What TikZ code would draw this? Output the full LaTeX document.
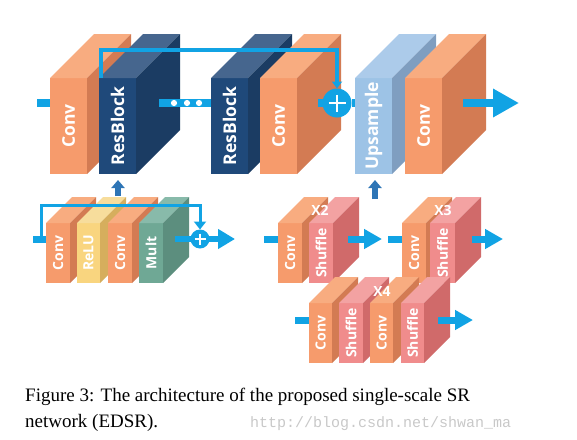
\documentclass[tikz,border=0pt]{standalone}
\usepackage{fontspec}
\setmainfont{Liberation Serif}
\newfontfamily\lblfont{Open Sans}
\newfontfamily\wmfont{Liberation Mono}
\usetikzlibrary{arrows.meta,calc}
\definecolor{orF}{RGB}{246,155,108}
\definecolor{orT}{RGB}{248,172,128}
\definecolor{orS}{RGB}{211,123,83}
\definecolor{nvF}{RGB}{31,73,122}
\definecolor{nvT}{RGB}{70,102,142}
\definecolor{nvS}{RGB}{27,60,99}
\definecolor{lbF}{RGB}{157,195,230}
\definecolor{lbT}{RGB}{172,203,234}
\definecolor{lbS}{RGB}{127,158,192}
\definecolor{ylF}{RGB}{249,213,127}
\definecolor{ylT}{RGB}{247,221,156}
\definecolor{ylS}{RGB}{214,174,93}
\definecolor{tlF}{RGB}{111,168,149}
\definecolor{tlT}{RGB}{136,186,170}
\definecolor{tlS}{RGB}{92,142,126}
\definecolor{pkF}{RGB}{240,140,140}
\definecolor{pkT}{RGB}{243,162,162}
\definecolor{pkS}{RGB}{208,106,106}
\definecolor{cyanA}{RGB}{17,163,228}
\definecolor{upblue}{RGB}{46,117,182}
\definecolor{wmgray}{RGB}{200,200,200}
\newcommand\blk[9]{%
  \node[front, fill=#7F, minimum width=#4pt, minimum height=#5pt] (#1) at (#2,#3) {};
  \fill[#7T] (#1.north west) -- ++(#6,-#6) -- ++(#4,0) -- (#1.north east) -- cycle;
  \fill[#7S] (#1.north east) -- ++(#6,-#6) -- ++(0,#5) -- (#1.south east) -- cycle;
  \node[#8] (#1t) at (#1.center) {#9};
}
\begin{document}
\begin{tikzpicture}[x=1pt,y=-1pt,
  front/.style={inner sep=0pt, outer sep=0pt, anchor=north west, draw=none},
  lblbig/.style={text=white, rotate=90, inner sep=0pt, font=\lblfont\bfseries\fontsize{17.5}{18}\selectfont},
  lblsm/.style={text=white, rotate=90, inner sep=0pt, font=\lblfont\bfseries\fontsize{14}{14}\selectfont},
  scalelbl/.style={text=white, inner sep=0pt, font=\lblfont\bfseries\fontsize{14}{14}\selectfont},
  bigbar/.style={draw=cyanA, line width=8pt},
  smbar/.style={draw=cyanA, line width=7pt},
  bigarrow/.style={draw=cyanA, line width=8pt, -{Triangle[width=27pt,length=26pt]}},
  smarrow/.style={draw=cyanA, line width=7pt, -{Triangle[width=19pt,length=18pt]}},
  skipbig/.style={draw=cyanA, line width=3.5pt, -{Triangle[width=10pt,length=7pt]}},
  skipsm/.style={draw=cyanA, line width=3pt, -{Triangle[width=12pt,length=8pt]}},
  uparrow/.style={draw=upblue, line width=6pt, -{Triangle[width=13pt,length=8pt]}},
  plusnode/.style={circle, fill=cyanA, inner sep=0pt, outer sep=0pt},
]
\useasboundingbox (0,0) rectangle (577,439);

% ---------------- top row ----------------
\coordinate (in1) at (37,103);
\blk{conv1}{50}{78}{37}{96}{44}{or}{lblbig}{Conv}
\draw[bigbar] (in1) -- (conv1.west |- in1);
\blk{rb1}{99}{78}{37}{96}{44}{nv}{lblbig}{ResBlock}
\coordinate (dot0) at (159,103);
\blk{rb2}{211}{78}{37}{96}{44}{nv}{lblbig}{ResBlock}
\draw[bigbar] (dot0) -- (rb2.west |- dot0);
\foreach \dx in {174,187,199} { \fill[white] (\dx,103) circle (3.1pt); }
\blk{conv2}{260}{78}{37}{96}{44}{or}{lblbig}{Conv}
\blk{up}{355}{78}{37}{96}{44}{lb}{lblbig}{Upsample}
\blk{conv3}{405}{78}{37}{96}{44}{or}{lblbig}{Conv}
\coordinate (pl1) at (318,103);
\node[plusnode, minimum size=29pt] (p1) at (337,103) {};
\draw[bigbar] (pl1) -- (p1.west);
\draw[bigbar] (p1.east) -- (up.west |- p1);
\draw[white, line width=2.6pt] ($(p1)+(-8.5,0)$) -- ($(p1)+(8.5,0)$);
\draw[white, line width=2.6pt] ($(p1)+(0,-8.5)$) -- ($(p1)+(0,8.5)$);
\coordinate (s1) at (337,50);
\draw[skipbig] ([xshift=2pt]rb1.north west) |- (s1) -- (p1.north);
\coordinate (out1) at (463,103);
\coordinate (out1e) at (519,103);
\draw[bigarrow] (out1) -- (out1e);

% up arrows
\coordinate (ua1) at (118,196);
\coordinate (ua2) at (375,199);
\draw[uparrow] (ua1) -- (ua1 |- 0,180);
\draw[uparrow] (ua2) -- (ua2 |- 0,180);

% ---------------- lower left: ResBlock ----------------
\coordinate (in2) at (33,239);
\blk{lc1}{46}{223}{24}{60}{26}{or}{lblsm}{Conv}
\blk{relu}{77}{223}{23}{60}{26}{yl}{lblsm}{ReLU}
\blk{lc2}{108}{223}{24}{60}{26}{or}{lblsm}{Conv}
\blk{mult}{139}{223}{24}{60}{26}{tl}{lblsm}{Mult}
\draw[smbar] (in2) -- (lc1.west |- in2);
\coordinate (m0) at (175,239);
\coordinate (m1) at (235,239);
\draw[draw=cyanA, line width=6pt, -{Triangle[width=19pt,length=17pt]}] (m0) -- (m1);
\node[plusnode, minimum size=19pt] (p2) at (200,239) {};
\draw[white, line width=1.8pt] ($(p2)+(-5.5,0)$) -- ($(p2)+(5.5,0)$);
\draw[white, line width=1.8pt] ($(p2)+(0,-5.5)$) -- ($(p2)+(0,5.5)$);
\coordinate (s2a) at (41,239);
\coordinate (s2b) at (200,205);
\draw[skipsm] (s2a) |- (s2b) -- (p2.north);

% ---------------- lower right: upsample variants ----------------
\blk{x2c}{278}{223}{24}{60}{26}{or}{lblsm}{Conv}
\blk{x2s}{309}{223}{24}{60}{26}{pk}{lblsm}{Shuffle}
\node[scalelbl] (x2l) at (320,210) {X2};
\coordinate (i2) at (264,239);
\draw[smbar] (i2) -- (x2c.west |- i2);
\coordinate (o2) at (348,239);
\coordinate (o2e) at (382,239);
\draw[smarrow] (o2) -- (o2e);

\blk{x3c}{402}{223}{24}{60}{26}{or}{lblsm}{Conv}
\blk{x3s}{430}{223}{25}{60}{26}{pk}{lblsm}{Shuffle}
\node[scalelbl] (x3l) at (443,210) {X3};
\coordinate (i3) at (388,239);
\draw[smbar] (i3) -- (x3c.west |- i3);
\coordinate (o3) at (472,239);
\coordinate (o3e) at (503,239);
\draw[smarrow] (o3) -- (o3e);

\blk{x4c1}{309}{303}{23}{60}{26}{or}{lblsm}{Conv}
\blk{x4s1}{339}{303}{24}{60}{26}{pk}{lblsm}{Shuffle}
\blk{x4c2}{370}{303}{23}{60}{26}{or}{lblsm}{Conv}
\blk{x4s2}{401}{303}{23}{60}{26}{pk}{lblsm}{Shuffle}
\node[scalelbl] (x4l) at (382,291) {X4};
\coordinate (i4) at (295,320);
\draw[smbar] (i4) -- (x4c1.west |- i4);
\coordinate (o4) at (438,320);
\coordinate (o4e) at (473,320);
\draw[smarrow] (o4) -- (o4e);

% ---------------- caption ----------------
\node[anchor=base west, inner sep=0pt, font=\fontsize{19}{22}\selectfont] (cap1) at (25,401) {Figure 3: The architecture of the proposed single-scale SR};
\node[anchor=base west, inner sep=0pt, font=\fontsize{19}{22}\selectfont] (cap2) at (25,427) {network (EDSR).};
\node[anchor=base west, inner sep=0pt, text=wmgray, font=\wmfont\fontsize{15}{16}\selectfont] (wm) at (250,427) {http://blog.csdn.net/shwan\_ma};
\end{tikzpicture}
\end{document}
